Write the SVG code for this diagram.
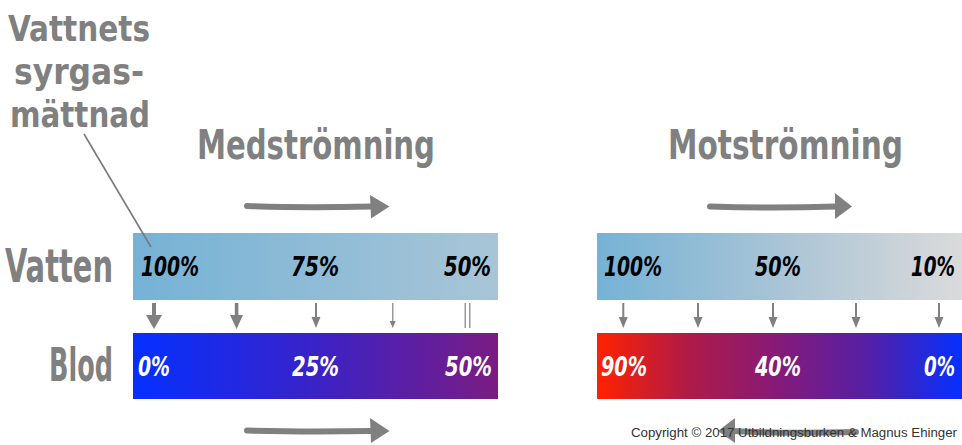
<svg xmlns="http://www.w3.org/2000/svg" width="962" height="445" viewBox="0 0 962 445">
<defs>
<linearGradient id="gWaterL" x1="0" y1="0" x2="1" y2="0">
<stop offset="0" stop-color="#75b2d5"/><stop offset="1" stop-color="#a8c5d7"/>
</linearGradient>
<linearGradient id="gWaterR" x1="0" y1="0" x2="1" y2="0">
<stop offset="0" stop-color="#75b2d5"/><stop offset="0.5" stop-color="#a9c4d6"/><stop offset="1" stop-color="#dadada"/>
</linearGradient>
<linearGradient id="gBloodL" x1="0" y1="0" x2="1" y2="0">
<stop offset="0" stop-color="#0530ff"/><stop offset="0.5" stop-color="#3a22c8"/><stop offset="1" stop-color="#7a1c82"/>
</linearGradient>
<linearGradient id="gBloodR" x1="0" y1="0" x2="1" y2="0">
<stop offset="0" stop-color="#ff2200"/><stop offset="0.25" stop-color="#b01a48"/><stop offset="0.5" stop-color="#851a7a"/><stop offset="0.75" stop-color="#5220a8"/><stop offset="1" stop-color="#0530ff"/>
</linearGradient>
</defs>
<style>
.title{font-family:"DejaVu Sans Condensed","DejaVu Sans",sans-serif;font-weight:bold;fill:#808080;}
.pct{font-family:"DejaVu Sans Condensed","DejaVu Sans",sans-serif;font-weight:bold;font-style:italic;font-size:26px;}
.dark{fill:#000000;}
.light{fill:#ffffff;}
.ar{fill:#808080;stroke:none;}
.sh{stroke:#808080;stroke-linecap:round;fill:none;}
.copy{font-family:"Liberation Sans",Arial,sans-serif;font-size:12px;fill:#333333;}
</style>

<g id="labels">
<text class="title" transform="translate(8,41) scale(0.9,1)" font-size="36" textLength="157.8" lengthAdjust="spacingAndGlyphs">Vattnets</text>
<text class="title" transform="translate(14,84) scale(0.9,1)" font-size="36" textLength="144.4" lengthAdjust="spacingAndGlyphs">syrgas-</text>
<text class="title" transform="translate(10,127) scale(0.9,1)" font-size="36" textLength="155.6" lengthAdjust="spacingAndGlyphs">mättnad</text>
<text class="title" transform="translate(197,159) scale(0.81,1)" font-size="40" textLength="293.8" lengthAdjust="spacingAndGlyphs">Medströmning</text>
<text class="title" transform="translate(668,159) scale(0.81,1)" font-size="40" textLength="290.1" lengthAdjust="spacingAndGlyphs">Motströmning</text>
<text class="title" transform="translate(5,282) scale(0.69,1)" font-size="46" textLength="156.5" lengthAdjust="spacingAndGlyphs">Vatten</text>
<text class="title" transform="translate(49,381) scale(0.615,1)" font-size="46" textLength="104" lengthAdjust="spacingAndGlyphs">Blod</text>
</g>

<g id="water-left">
<rect x="133" y="233" width="365" height="67" fill="url(#gWaterL)"/>
<text class="pct dark" transform="translate(141,276) scale(0.82,1)" textLength="70.7" lengthAdjust="spacingAndGlyphs">100%</text>
<text class="pct dark" transform="translate(291,276) scale(0.82,1)" textLength="58.5" lengthAdjust="spacingAndGlyphs">75%</text>
<text class="pct dark" transform="translate(444,276) scale(0.82,1)" textLength="57.3" lengthAdjust="spacingAndGlyphs">50%</text>
</g>
<g id="blood-left">
<rect x="133" y="333" width="365" height="66" fill="url(#gBloodL)"/>
<text class="pct light" transform="translate(138,376) scale(0.82,1)" textLength="39" lengthAdjust="spacingAndGlyphs">0%</text>
<text class="pct light" transform="translate(292,376) scale(0.82,1)" textLength="57.3" lengthAdjust="spacingAndGlyphs">25%</text>
<text class="pct light" transform="translate(445,376) scale(0.82,1)" textLength="57.3" lengthAdjust="spacingAndGlyphs">50%</text>
</g>
<g id="water-right">
<rect x="597" y="233" width="365" height="67" fill="url(#gWaterR)"/>
<text class="pct dark" transform="translate(604,276) scale(0.82,1)" textLength="70.7" lengthAdjust="spacingAndGlyphs">100%</text>
<text class="pct dark" transform="translate(755,276) scale(0.82,1)" textLength="56.1" lengthAdjust="spacingAndGlyphs">50%</text>
<text class="pct dark" transform="translate(911,276) scale(0.82,1)" textLength="53.7" lengthAdjust="spacingAndGlyphs">10%</text>
</g>
<g id="blood-right">
<rect x="597" y="333" width="365" height="66" fill="url(#gBloodR)"/>
<text class="pct light" transform="translate(601,376) scale(0.82,1)" textLength="56.1" lengthAdjust="spacingAndGlyphs">90%</text>
<text class="pct light" transform="translate(755,376) scale(0.82,1)" textLength="56.1" lengthAdjust="spacingAndGlyphs">40%</text>
<text class="pct light" transform="translate(924,376) scale(0.82,1)" textLength="37.8" lengthAdjust="spacingAndGlyphs">0%</text>
</g>

<g id="connectors">
<line x1="84" y1="134" x2="151" y2="247" stroke="#7a7a7a" stroke-width="1.6"/>
<rect x="152" y="303" width="4" height="13" fill="#808080"/>
<polygon class="ar" points="146,315 162,315 154,329"/>
<rect x="234.8" y="303" width="3.6" height="13" fill="#808080"/>
<polygon class="ar" points="230,315 243,315 236.6,329"/>
<rect x="315" y="303" width="2" height="15" fill="#808080"/>
<polygon class="ar" points="311.5,317 320.5,317 316,328"/>
<rect x="392.2" y="303" width="1.2" height="19" fill="#808080"/>
<polygon class="ar" points="389.7,321 395.7,321 392.7,328"/>
<rect x="464.6" y="303" width="1.2" height="25" fill="#808080"/>
<rect x="469.2" y="303" width="1.2" height="25" fill="#808080"/>
<rect x="622.3" y="303" width="2" height="15" fill="#808080"/>
<polygon class="ar" points="618.8,317 627.8,317 623.3,328"/>
<rect x="697" y="303" width="2" height="15" fill="#808080"/>
<polygon class="ar" points="693.5,317 702.5,317 698,328"/>
<rect x="772" y="303" width="2" height="15" fill="#808080"/>
<polygon class="ar" points="768.5,317 777.5,317 773,328"/>
<rect x="855" y="303" width="2" height="15" fill="#808080"/>
<polygon class="ar" points="851.5,317 860.5,317 856,328"/>
<rect x="938" y="303" width="2" height="15" fill="#808080"/>
<polygon class="ar" points="934.5,317 943.5,317 939,328"/>
<path class="sh" d="M247,206 Q300,208 372,206.5" stroke-width="6"/>
<polygon class="ar" points="370,195 389.5,206.5 371,218.5"/>
<path class="sh" d="M247,430.5 Q300,432 372,431" stroke-width="6"/>
<polygon class="ar" points="370,418 389.5,431 371,443"/>
<path class="sh" d="M710,206.5 Q770,208.5 837,206.5" stroke-width="6"/>
<polygon class="ar" points="835,193 852,206.5 835,219"/>
<path class="sh" d="M856,432 Q790,434 733,431" stroke-width="6"/>
<polygon class="ar" points="735,418 718,431 735,443"/>
</g>

<text class="copy" x="631" y="437" textLength="326" lengthAdjust="spacingAndGlyphs">Copyright © 2017 Utbildningsburken &amp; Magnus Ehinger</text>
</svg>
